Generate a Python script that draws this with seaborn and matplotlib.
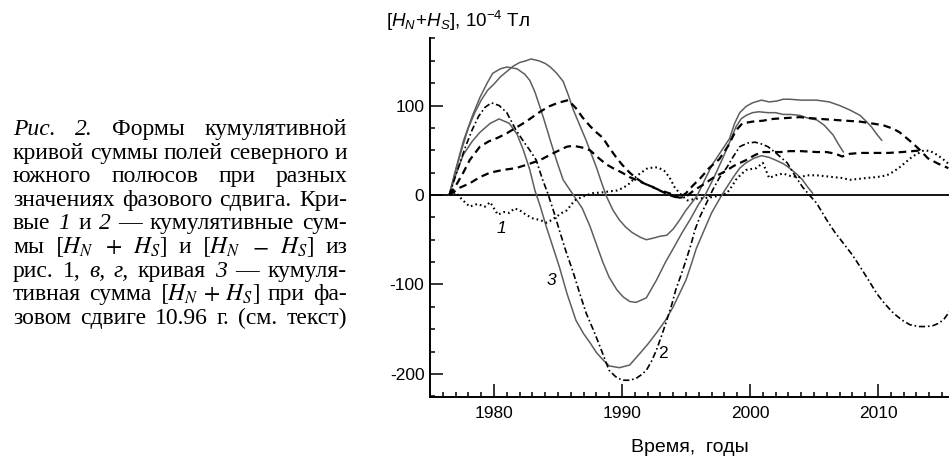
import matplotlib
matplotlib.use("Agg")
import matplotlib.pyplot as plt
from matplotlib.ticker import MultipleLocator
import seaborn as sns

# --- curve data (years, 10^-4 T) ---

# solid curve, peak ~143 (1981), min ~-120 (1991)
yr_a = [1976.5, 1977.0, 1977.6, 1978.3, 1978.9, 1979.5, 1979.9, 1980.5, 1981.0, 1981.8,
        1982.4, 1982.8, 1983.2, 1983.6, 1984.0, 1984.4, 1984.9, 1985.4, 1986.2, 1986.9,
        1987.5, 1988.0, 1988.5, 1989.0, 1989.6, 1990.1, 1990.6, 1991.1, 1991.9, 1992.7,
        1993.4, 1994.0, 1994.7, 1995.3, 1996.0, 1996.5, 1997.2, 1997.9, 1998.5, 1998.9,
        1999.3, 1999.7, 2000.2, 2000.7, 2001.4, 2002.0, 2002.6, 2003.2, 2003.9, 2004.5,
        2005.2, 2005.8, 2006.5, 2006.9, 2007.3]
val_a = [0, 28, 60, 88, 109, 126, 136, 141, 143, 141,
         135, 128, 115, 98, 80, 61, 38, 17, 0, -15,
         -35, -55, -75, -92, -106, -114, -119, -120, -115, -95,
         -75, -60, -42, -28, -10, 0, 20, 42, 62, 76,
         85, 89, 92, 93, 92, 92, 90, 90, 89, 86,
         84, 78, 67, 57, 48]

# solid curve, peak ~152 (1983), min ~-50 (1992), plateau ~106
yr_b = [1976.5, 1977.0, 1977.5, 1978.0, 1978.5, 1979.0, 1979.5, 1980.0, 1980.5, 1981.0,
        1981.5, 1982.0, 1982.5, 1982.9, 1983.5, 1984.0, 1984.4, 1984.9, 1985.4, 1985.8,
        1986.2, 1986.7, 1987.2, 1987.6, 1988.0, 1988.4, 1988.8, 1989.3, 1989.8, 1990.3,
        1990.8, 1991.4, 1991.9, 1992.5, 1993.0, 1993.5, 1994.0, 1994.5, 1995.0, 1995.6,
        1995.9, 1996.5, 1997.1, 1997.8, 1998.4, 1998.8, 1999.2, 1999.7, 2000.2, 2000.9,
        2001.5, 2002.1, 2002.6, 2003.1, 2004.0, 2005.2, 2006.2, 2007.0, 2007.8, 2008.6,
        2009.1, 2009.5, 2009.9, 2010.3]
val_b = [0, 27, 52, 75, 92, 106, 117, 124, 132, 138,
         144, 148, 150, 152, 150, 147, 143, 136, 127, 112,
         95, 78, 61, 46, 31, 14, -2, -17, -28, -36,
         -42, -47, -50, -48, -46, -45, -38, -28, -17, -6,
         0, 18, 35, 50, 63, 80, 92, 99, 103, 106,
         104, 105, 107, 107, 106, 106, 104, 100, 95, 89,
         82, 76, 68, 61]

# curve 3 (solid)
yr_3 = [1976.5, 1977.0, 1977.6, 1978.3, 1978.9, 1979.7, 1980.4, 1981.2, 1981.8, 1982.3,
        1982.8, 1983.2, 1983.6, 1984.1, 1984.6, 1985.1, 1985.7, 1986.4, 1987.0, 1987.5,
        1988.0, 1988.5, 1989.0, 1989.8, 1990.6, 1991.4, 1992.0, 1992.7, 1993.4, 1994.0,
        1994.5, 1995.0, 1995.4, 1995.8, 1996.4, 1997.0, 1997.8, 1998.7, 1999.2, 1999.7,
        2000.3, 2000.9, 2001.5, 2002.0, 2002.6, 2003.1, 2003.6, 2004.1, 2004.5, 2004.9]
val_3 = [0, 22, 45, 60, 70, 80, 85, 80, 68, 50,
         28, 5, -12, -36, -58, -80, -110, -140, -155, -165,
         -176, -184, -191, -193, -190, -177, -167, -154, -140, -125,
         -110, -95, -78, -60, -40, -20, 0, 20, 30, 36,
         41, 44, 42, 39, 35, 30, 24, 17, 9, 2]

# curve 2 (dash-dot)
yr_2 = [1976.5, 1977.2, 1977.8, 1978.3, 1978.8, 1979.3, 1979.8, 1980.4, 1981.0, 1981.7,
        1982.3, 1982.8, 1983.3, 1983.8, 1984.2, 1984.7, 1985.1, 1985.6, 1986.2, 1986.7,
        1987.2, 1987.8, 1988.3, 1988.7, 1989.0, 1989.5, 1990.0, 1990.6, 1991.1, 1991.5,
        1991.9, 1992.3, 1992.7, 1993.1, 1993.5, 1993.9, 1994.2, 1994.6, 1995.0, 1995.4,
        1995.7, 1996.1, 1996.6, 1997.1, 1997.6, 1998.2, 1998.7, 1999.2, 1999.8, 2000.4,
        2000.9, 2001.4, 2002.1, 2002.9, 2003.5, 2004.1, 2004.7, 2005.2, 2006.0, 2006.6,
        2007.3, 2008.0, 2008.6, 2009.3, 2009.9, 2010.5, 2011.2, 2011.9, 2012.5, 2013.2,
        2013.8, 2014.3, 2014.8, 2015.2, 2015.6]
val_2 = [0, 30, 55, 73, 88, 98, 103, 100, 92, 73,
         60, 50, 39, 17, 2, -20, -39, -62, -87, -110,
         -132, -152, -170, -185, -196, -203, -207, -207, -205, -201,
         -196, -186, -173, -157, -140, -122, -106, -90, -73, -55,
         -39, -24, -9, 6, 19, 31, 43, 54, 58, 59,
         57, 54, 46, 36, 22, 9, -1, -9, -28, -41,
         -54, -67, -80, -96, -110, -121, -132, -140, -145, -147,
         -147, -146, -143, -138, -130]

# upper dashed curve
yr_d1 = [1976.5, 1977.0, 1977.6, 1978.1, 1978.9, 1979.6, 1980.3, 1981.0, 1981.7, 1982.5,
         1983.0, 1983.6, 1984.3, 1985.0, 1985.8, 1986.4, 1986.9, 1987.5, 1988.0, 1988.5,
         1989.0, 1989.5, 1990.0, 1990.6, 1991.1, 1991.7, 1992.4, 1993.1, 1993.7, 1994.1,
         1994.5, 1995.0, 1995.5, 1996.2, 1996.8, 1997.6, 1998.3, 1998.9, 1999.4, 2000.2,
         2001.0, 2001.8, 2002.8, 2003.9, 2004.6, 2005.5, 2006.5, 2007.5, 2008.6, 2009.5,
         2010.4, 2011.2, 2011.7, 2012.2, 2012.7, 2013.3, 2013.9, 2014.7, 2015.5]
val_d1 = [0, 10, 25, 39, 54, 60, 64, 69, 75, 82,
          87, 93, 99, 103, 106, 97, 87, 77, 70, 64,
          53, 43, 34, 25, 19, 13, 9, 4, 0, -2,
          -3, 2, 10, 20, 30, 40, 55, 72, 80, 82,
          83, 85, 86, 87, 86, 85, 84, 83, 82, 80,
          78, 74, 70, 64, 58, 50, 41, 35, 30]

# lower dashed curve
yr_d2 = [1976.5, 1977.3, 1978.1, 1978.9, 1979.7, 1980.7, 1981.7, 1982.6, 1983.6, 1984.4,
         1985.1, 1985.7, 1986.2, 1986.9, 1987.5, 1988.2, 1988.8, 1989.3, 1990.0, 1990.6,
         1991.4, 1992.2, 1993.0, 1993.7, 1994.1, 1994.5, 1995.0, 1995.6, 1996.4, 1997.2,
         1998.0, 1998.8, 1999.7, 2000.3, 2000.9, 2001.7, 2002.4, 2003.1, 2004.0, 2005.2,
         2006.0, 2006.7, 2007.2, 2007.8, 2008.6, 2009.9, 2010.8, 2011.9, 2012.7, 2013.5]
val_d2 = [0, 8, 13, 20, 25, 28, 30, 34, 39, 45,
          50, 54, 55, 53, 50, 41, 34, 30, 25, 20,
          15, 10, 5, 2, -1, -3, -2, 5, 12, 20,
          26, 33, 39, 44, 48, 48, 48, 49, 49, 48,
          48, 46, 43, 46, 47, 47, 47, 48, 49, 50]

# curve 1 (dotted)
yr_1 = [1976.5, 1977.0, 1977.5, 1978.1, 1978.7, 1979.3, 1979.7, 1980.3, 1980.8, 1981.2,
        1981.6, 1982.0, 1982.5, 1983.0, 1983.6, 1984.1, 1984.5, 1984.9, 1985.3, 1985.7,
        1986.3, 1986.9, 1987.7, 1988.5, 1989.0, 1989.6, 1990.1, 1990.6, 1991.0, 1991.4,
        1992.0, 1992.8, 1993.3, 1993.7, 1994.1, 1994.5, 1995.1, 1995.9, 1996.8, 1997.5,
        1998.2, 1998.6, 1998.9, 1999.3, 1999.7, 2000.5, 2001.0, 2001.5, 2002.0, 2002.6,
        2003.2, 2003.9, 2004.5, 2005.2, 2005.9, 2006.5, 2007.2, 2007.8, 2008.5, 2009.1,
        2009.9, 2010.7, 2011.2, 2011.7, 2012.2, 2012.7, 2013.2, 2013.6, 2014.1, 2014.6,
        2015.0, 2015.5]
val_1 = [0, 3, -5, -13, -10, -13, -8, -22, -19, -20,
         -15, -17, -22, -26, -28, -31, -28, -24, -20, -17,
         -6, -2, 2, 3, 4, 5, 8, 13, 19, 24,
         30, 31, 27, 20, 9, 2, -6, -4, -3, -1,
         2, 10, 17, 23, 28, 30, 36, 19, 22, 24,
         21, 20, 22, 22, 21, 20, 19, 17, 18, 19,
         20, 22, 26, 31, 37, 43, 47, 50, 49, 45,
         41, 35]

# caption lines, word by word ("it" = italic, "m" = math)
cap_lines = [
    [("Рис.", "it"), ("2.", "it"), ("Формы", ""), ("кумулятивной", "")],
    [("кривой", ""), ("суммы", ""), ("полей", ""), ("северного", ""), ("и", "")],
    [("южного", ""), ("полюсов", ""), ("при", ""), ("разных", "")],
    [("значениях", ""), ("фазового", ""), ("сдвига.", ""), ("Кри-", "")],
    [("вые", ""), ("1", "it"), ("и", ""), ("2", "it"), ("—", ""), ("кумулятивные", ""), ("сум-", "")],
    [("мы", ""), (r"$[H_N$", "m"), (r"$+$", "m"), (r"$H_S]$", "m"), ("и", ""),
     (r"$[H_N$", "m"), (r"$-$", "m"), (r"$H_S]$", "m"), ("из", "")],
    [("рис.", ""), ("1,", ""), ("в,", "it"), ("г,", "it"), ("кривая", ""), ("3", "it"), ("—", ""), ("кумуля-", "")],
    [("тивная", ""), ("сумма", ""), (r"$[H_N\,+\,H_S]$", "m"), ("при", ""), ("фа-", "")],
    [("зовом", ""), ("сдвиге", ""), ("10.96", ""), ("г.", ""), ("(см.", ""), ("текст)", "")],
]

sns.set_style("ticks")
plt.rcParams['font.family'] = ['Liberation Sans', 'DejaVu Sans']
plt.rcParams['mathtext.fontset'] = 'custom'
plt.rcParams['mathtext.rm'] = 'Liberation Sans'
plt.rcParams['mathtext.it'] = 'Liberation Sans:italic'
plt.rcParams['mathtext.bf'] = 'Liberation Sans:bold'
plt.rcParams['axes.unicode_minus'] = False
plt.rcParams['lines.scale_dashes'] = False
plt.rcParams['text.color'] = 'black'

W, H = 949, 457
fig = plt.figure(figsize=(W / 100, H / 100), dpi=100)
ax = fig.add_axes([430 / W, (H - 396.7) / H, (W - 430) / W, (396.7 - 38.3) / H])

gray = '#5e5e5e'
styles = [
    (yr_a, val_a, dict(color=gray, lw=1.1, ls='-')),
    (yr_b, val_b, dict(color=gray, lw=1.1, ls='-')),
    (yr_3, val_3, dict(color=gray, lw=1.1, ls='-')),
    (yr_d1, val_d1, dict(color='k', lw=1.6, ls=(0, (5.5, 3.5)))),
    (yr_d2, val_d2, dict(color='k', lw=1.6, ls=(0, (5.5, 3.5)))),
    (yr_2, val_2, dict(color='k', lw=1.2, ls=(0, (4.5, 2, 1.2, 2)))),
    (yr_1, val_1, dict(color='k', lw=1.5, ls=(0, (1.2, 2.2)))),
]
for yrs, vals, st in styles:
    sns.lineplot(x=yrs, y=vals, ax=ax, sort=False, estimator=None, **st)

ax.axhline(0, color='k', lw=1.3, zorder=1)

ax.set_xlim(1975, 2015.55)
ax.set_ylim(-225.4, 175.1)
ax.xaxis.set_major_locator(MultipleLocator(10))
ax.xaxis.set_minor_locator(MultipleLocator(1))
ax.yaxis.set_major_locator(MultipleLocator(100))
ax.yaxis.set_minor_locator(MultipleLocator(25))
ax.tick_params(which='both', direction='in', colors='k', width=1.1, labelsize=12.5)
ax.tick_params(which='major', length=9.5)
ax.tick_params(which='minor', length=3.5)
ax.tick_params(axis='x', which='major', pad=7)
ax.tick_params(axis='y', which='major', pad=4)
ax.set_xlabel('')
ax.set_ylabel('')
for s in ['top', 'right']:
    ax.spines[s].set_visible(False)
for s in ['left', 'bottom']:
    ax.spines[s].set_color('k')
    ax.spines[s].set_linewidth(1.4)

# curve numbers
ax.text(1980.6, -37, '1', fontsize=12.5, style='italic', ha='center', va='center')
ax.text(1984.5, -95, '3', fontsize=12.5, style='italic', ha='center', va='center')
ax.text(1993.2, -177, '2', fontsize=12.5, ha='center', va='center')

# axis titles
fig.text(386 / W, 1 - 21 / H, r'$[H_N\!+\!H_S]$, 10$^{-4}$ Тл', fontsize=13.5, ha='left', va='center')
fig.text(690 / W, 1 - 447 / H, 'Время,  годы', fontsize=14, ha='center', va='center')

# justified caption
r = fig.canvas.get_renderer()
cap_fs = 17
x0, x1 = 13, 347
for i, words in enumerate(cap_lines):
    yb = 1 - (135 + i * 23.6) / H
    objs = []
    for w, st in words:
        kw = dict(fontsize=cap_fs, va='baseline', ha='left',
                  family=['Liberation Serif', 'DejaVu Serif'], math_fontfamily='stix')
        if st == 'it':
            kw['style'] = 'italic'
        objs.append(fig.text(0, yb, w, **kw))
    widths = [o.get_window_extent(renderer=r).width for o in objs]
    gap = (x1 - x0 - sum(widths)) / (len(objs) - 1)
    x = x0
    for o, wd in zip(objs, widths):
        o.set_x(x / W)
        x += wd + gap

fig.savefig('out.png', dpi=100)
plt.close()
